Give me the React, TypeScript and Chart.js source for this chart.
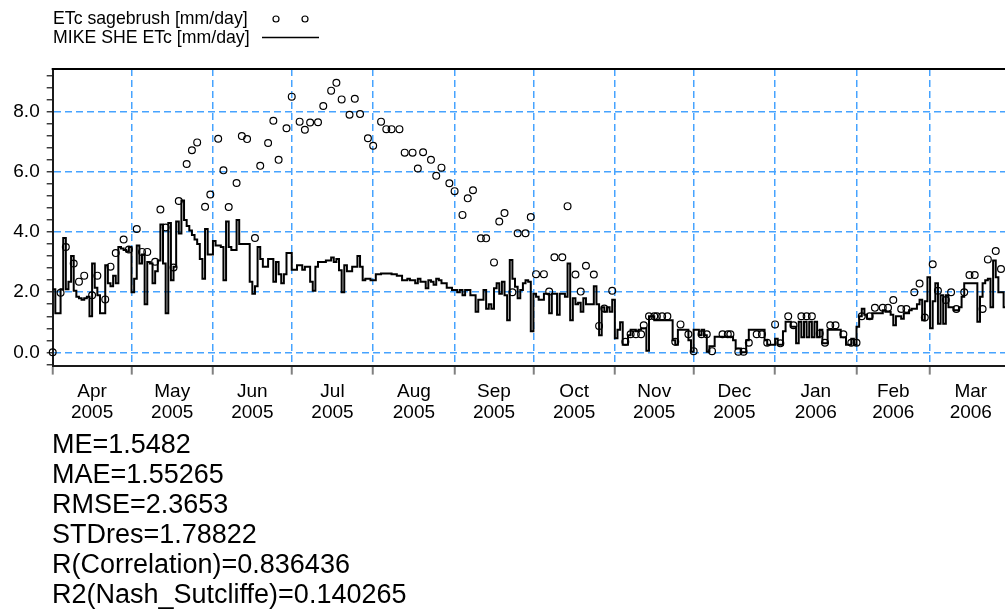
import React, { useEffect, useRef } from 'react';
import { Chart, registerables } from 'chart.js';

Chart.register(...registerables);

const FONT = 'Arial, "Liberation Sans", Helvetica, sans-serif';

// Month axis (day 0 = 1 Apr 2005)
const monthNames = ['Apr', 'May', 'Jun', 'Jul', 'Aug', 'Sep', 'Oct', 'Nov', 'Dec', 'Jan', 'Feb', 'Mar'];
const monthYears = ['2005', '2005', '2005', '2005', '2005', '2005', '2005', '2005', '2005', '2006', '2006', '2006'];
const monthStartDays = [0, 30, 61, 91, 122, 153, 183, 214, 244, 275, 306, 334, 365];

// Y axis ticks
const yTickValues = [-0.4, 0, 0.4, 0.8, 1.2, 1.6, 2, 2.4, 2.8, 3.2, 3.6, 4, 4.4, 4.8, 5.2, 5.6, 6, 6.4, 6.8, 7.2, 7.6, 8, 8.4, 8.8, 9.2];
const yLabelValues = [0, 2, 4, 6, 8];

// MIKE SHE ETc [mm/day], daily values per month
const mikeSheApr = [2.1, 1.3, 1.3, 2.1, 3.8, 2.1, 2.35, 3.2, 2.05, 1.85, 1.8, 1.75, 1.8, 1.85, 1.2, 2.95, 2.15, 1.9, 1.3, 1.3, 2.9, 2.3, 2.2, 2.55, 2.3, 3.5, 3.45, 3.4, 3.35, 3.5];
const mikeSheMay = [2.0, 2.45, 3.55, 2.95, 3.25, 1.6, 3.0, 2.95, 2.3, 2.7, 3.05, 4.25, 2.95, 1.3, 4.3, 2.4, 2.85, 4.35, 3.95, 5.05, 4.4, 4.2, 4.05, 3.9, 3.75, 3.6, 3.1, 2.45, 4.1, 3.25, 3.25];
const mikeSheJun = [3.7, 3.55, 3.55, 3.5, 2.4, 4.35, 3.5, 3.4, 3.4, 4.4, 3.6, 3.6, 3.6, 3.6, 2.35, 1.95, 2.2, 3.5, 3.1, 2.85, 2.85, 3.1, 3.1, 2.35, 3.0, 2.6, 2.3, 2.6, 3.3, 3.3];
const mikeSheJul = [2.75, 2.75, 2.9, 2.9, 2.75, 2.85, 2.85, 2.35, 2.05, 2.85, 3.0, 3.0, 3.0, 3.05, 3.05, 3.15, 3.0, 3.1, 2.73, 2.0, 2.9, 2.7, 2.7, 2.85, 2.85, 3.2, 2.85, 2.4, 2.45, 2.45, 2.4];
const mikeSheAug = [2.4, 2.6, 2.6, 2.62, 2.62, 2.62, 2.62, 2.6, 2.6, 2.55, 2.55, 2.4, 2.4, 2.45, 2.4, 2.4, 2.3, 2.45, 2.35, 2.35, 2.13, 2.4, 2.35, 2.25, 2.45, 2.4, 2.3, 2.3, 2.15, 2.15, 2.07];
const mikeSheSep = [2.07, 2.0, 2.07, 1.9, 2.07, 2.07, 1.9, 1.9, 1.35, 1.75, 1.75, 2.07, 1.45, 1.6, 1.45, 2.13, 2.3, 1.95, 2.35, 1.9, 1.07, 3.07, 2.45, 2.18, 1.8, 2.07, 2.3, 2.4, 2.35, 0.7];
const mikeSheOct = [1.95, 1.85, 1.75, 1.75, 1.95, 1.95, 1.3, 1.95, 1.95, 1.25, 1.95, 1.95, 1.85, 2.95, 1.07, 1.8, 1.6, 1.65, 1.35, 1.8, 1.6, 1.6, 1.6, 2.2, 1.6, 0.57, 1.5, 1.35, 1.5, 1.35, 1.75];
const mikeSheNov = [0.47, 0.75, 1.0, 0.25, 0.25, 0.57, 0.75, 0.75, 0.7, 0.75, 0.8, 0.8, 0.05, 1.2, 1.2, 1.07, 1.07, 1.07, 1.07, 1.07, 1.07, 1.07, 0.4, 0.25, 0.75, 0.75, 0.75, 0.75, 0.4, 0.02];
const mikeSheDec = [0.75, 0.75, 0.57, 0.75, 0.57, 0.02, 0.2, 0.2, 0.52, 0.52, 0.52, 0.52, 0.52, 0.52, 0.52, 0.4, 0.13, 0.13, 0.0, 0.0, 0.4, 0.75, 0.75, 0.75, 0.75, 0.75, 0.75, 0.4, 0.25, 0.25, 0.25];
const mikeSheJan = [0.45, 0.25, 0.25, 0.7, 1.02, 1.02, 0.85, 0.85, 0.3, 1.02, 0.5, 1.02, 0.5, 1.02, 0.5, 1.02, 0.5, 0.75, 0.3, 0.3, 0.75, 0.75, 0.75, 0.75, 0.75, 0.5, 0.5, 0.25, 0.25, 0.45, 0.25];
const mikeSheFeb = [0.85, 1.2, 1.45, 1.25, 1.12, 1.12, 1.3, 1.3, 1.3, 1.3, 1.4, 1.35, 1.35, 1.25, 0.9, 1.2, 1.2, 1.12, 1.3, 1.3, 1.4, 1.45, 1.45, 1.6, 1.75, 1.07, 1.7, 2.5];
const mikeSheMar = [0.8, 1.7, 2.3, 0.95, 1.9, 0.95, 1.9, 1.5, 1.5, 1.4, 1.4, 1.5, 1.85, 2.3, 2.3, 2.3, 2.3, 2.3, 1.02, 1.85, 2.3, 2.4, 2.45, 1.5, 3.05, 2.5, 2.0, 2.0, 1.5, 1.5];

// ETc sagebrush [mm/day] observations: day index and value
const sageDays = [0, 3, 5, 8, 10, 12, 15, 17, 20, 22, 24, 27, 29, 32, 34, 36, 39, 41, 43, 46, 48, 51, 53, 55, 58, 60, 63, 65, 67, 70, 72, 74, 77, 79, 82, 84, 86, 89, 91, 94, 96, 98, 101, 103, 106, 108, 110, 113, 115, 117, 120, 122, 125, 127, 129, 132, 134, 137, 139, 141, 144, 146, 148, 151, 153, 156, 158, 160, 163, 165, 168, 170, 172, 175, 177, 180, 182, 184, 187, 189, 191, 194, 196, 199, 201, 203, 206, 208, 210, 213, 218, 220, 222, 224, 225, 227, 229, 230, 232, 234, 237, 239, 242, 244, 247, 249, 251, 255, 257, 258, 261, 263, 265, 268, 270, 272, 275, 277, 280, 282, 285, 287, 289, 292, 294, 296, 298, 301, 304, 306, 308, 311, 313, 316, 318, 320, 323, 325, 328, 330, 332, 335, 337, 340, 342, 344, 347, 349, 351, 354, 356, 359, 361];
const sageValues = [0.0, 1.98, 3.5, 2.95, 2.35, 2.55, 1.9, 2.55, 1.76, 2.85, 3.3, 3.75, 3.42, 4.1, 3.34, 3.34, 3.01, 4.75, 4.15, 2.82, 5.03, 6.26, 6.72, 6.98, 4.84, 5.25, 7.1, 6.05, 4.83, 5.63, 7.19, 7.09, 3.8, 6.2, 6.96, 7.7, 6.4, 7.45, 8.5, 7.67, 7.4, 7.64, 7.65, 8.19, 8.7, 8.96, 8.41, 7.9, 8.43, 7.92, 7.12, 6.87, 7.67, 7.42, 7.42, 7.42, 6.64, 6.64, 6.11, 6.65, 6.4, 5.87, 6.14, 5.62, 5.36, 4.57, 5.12, 5.39, 3.79, 3.79, 2.99, 4.35, 4.63, 2.0, 3.96, 3.96, 4.5, 2.6, 2.6, 2.02, 3.16, 3.16, 4.86, 2.59, 2.02, 2.88, 2.59, 0.88, 1.46, 2.05, 0.35, 0.6, 0.6, 0.6, 0.9, 1.2, 1.2, 1.2, 1.2, 1.2, 0.35, 0.93, 0.6, 0.04, 0.6, 0.6, 0.04, 0.6, 0.6, 0.6, 0.02, 0.02, 0.32, 0.6, 0.6, 0.32, 0.93, 0.3, 1.2, 0.9, 1.2, 1.2, 1.2, 0.63, 0.32, 0.9, 0.9, 0.6, 0.32, 0.32, 1.2, 1.2, 1.48, 1.48, 1.48, 1.74, 1.44, 1.44, 2.0, 2.29, 1.16, 2.93, 2.05, 1.74, 2.0, 1.44, 2.0, 2.57, 2.57, 1.44, 3.09, 3.37, 2.77];

const legendLines = ['ETc sagebrush [mm/day]', 'MIKE SHE ETc [mm/day]'];
const statLines = ['ME=1.5482', 'MAE=1.55265', 'RMSE=2.3653', 'STDres=1.78822', 'R(Correlation)=0.836436', 'R2(Nash_Sutcliffe)=0.140265'];

const GRID_BLUE = 'rgb(70,163,255)';
const CLEAR = 'rgba(0,0,0,0)';
const CANVAS_W = 1020;
const CANVAS_H = 610;

export default function App() {
  const canvasRef = useRef<HTMLCanvasElement | null>(null);

  useEffect(() => {
    document.body.style.margin = '0';
    const canvas = canvasRef.current;
    if (!canvas) return;

    const mikeShe = [
      ...mikeSheApr, ...mikeSheMay, ...mikeSheJun, ...mikeSheJul, ...mikeSheAug, ...mikeSheSep,
      ...mikeSheOct, ...mikeSheNov, ...mikeSheDec, ...mikeSheJan, ...mikeSheFeb, ...mikeSheMar,
    ];
    const linePoints = mikeShe.map((v, i) => ({ x: i, y: v }));
    const dotPoints = sageDays.map((d, i) => ({ x: d, y: sageValues[i] }));

    const midDays = monthNames.map((_, i) => (monthStartDays[i] + monthStartDays[i + 1]) / 2);
    const xTickValues = [...monthStartDays, ...midDays].sort((a, b) => a - b);
    const isStart = (v: number) => monthStartDays.some((s) => Math.abs(s - v) < 0.01);
    const isLabelledY = (v: number) => yLabelValues.some((s) => Math.abs(s - v) < 0.01);

    const decorations = {
      id: 'decorations',
      afterDraw(chart: any) {
        const { ctx, chartArea } = chart;
        ctx.save();
        ctx.strokeStyle = '#000';
        ctx.lineWidth = 2;
        ctx.beginPath();
        ctx.moveTo(chartArea.left - 1, chartArea.top);
        ctx.lineTo(chart.width, chartArea.top);
        ctx.stroke();
        // legend symbols
        ctx.lineWidth = 1.2;
        [276, 305].forEach((cx) => {
          ctx.beginPath();
          ctx.arc(cx, 19, 3, 0, Math.PI * 2);
          ctx.stroke();
        });
        ctx.lineWidth = 1.6;
        ctx.beginPath();
        ctx.moveTo(262, 37.5);
        ctx.lineTo(319, 37.5);
        ctx.stroke();
        ctx.restore();
      },
    };

    Chart.defaults.font.family = FONT;
    Chart.defaults.color = '#000';

    const chart = new Chart(canvas, {
      type: 'line',
      data: {
        datasets: [
          {
            label: 'ETc sagebrush [mm/day]',
            data: dotPoints,
            showLine: false,
            pointStyle: 'circle',
            pointRadius: 3.4,
            pointBorderWidth: 1.2,
            pointBorderColor: '#000',
            pointBackgroundColor: CLEAR,
            borderColor: '#000',
            clip: 8,
            order: 0,
          } as any,
          {
            label: 'MIKE SHE ETc [mm/day]',
            data: linePoints,
            stepped: true,
            borderColor: '#000',
            borderWidth: 2,
            pointRadius: 0,
            fill: false,
            order: 1,
          } as any,
        ],
      },
      options: {
        animation: false,
        responsive: false,
        events: [],
        layout: { padding: { left: 0, top: 69, right: CANVAS_W - 1011.5, bottom: 0 } },
        plugins: { legend: { display: false }, tooltip: { enabled: false } },
        scales: {
          x: {
            type: 'linear',
            min: 0,
            max: 365,
            afterBuildTicks: (axis: any) => {
              axis.ticks = xTickValues.map((v) => ({ value: v }));
            },
            afterFit: (axis: any) => {
              axis.height = CANVAS_H - 365.6;
            },
            grid: {
              color: (c: any) => (c.tick && isStart(c.tick.value) ? GRID_BLUE : CLEAR),
              lineWidth: 1.5,
              tickColor: (c: any) => (c.tick && isStart(c.tick.value) ? '#808080' : CLEAR),
              tickLength: 9,
              tickWidth: 2,
            },
            border: { display: true, color: '#1a1a1a', width: 2, dash: [7, 4] },
            ticks: {
              autoSkip: false,
              maxRotation: 0,
              minRotation: 0,
              padding: 6.6,
              font: { size: 19, lineHeight: 21 / 19, family: FONT },
              color: '#000',
              callback: (value: any) => {
                const i = midDays.findIndex((m) => Math.abs(m - Number(value)) < 0.01);
                return i >= 0 ? [monthNames[i], monthYears[i]] : '';
              },
            },
          },
          y: {
            type: 'linear',
            min: -0.44,
            max: 9.42,
            afterBuildTicks: (axis: any) => {
              axis.ticks = yTickValues.map((v) => ({ value: v }));
            },
            afterFit: (axis: any) => {
              axis.width = 52.7;
            },
            grid: {
              color: (c: any) => (c.tick && isLabelledY(c.tick.value) ? GRID_BLUE : CLEAR),
              lineWidth: 1.5,
              tickColor: '#333',
              tickLength: 6,
              tickWidth: 1.4,
            },
            border: { display: true, color: '#1a1a1a', width: 2, dash: [7, 4] },
            ticks: {
              autoSkip: false,
              padding: 7,
              font: { size: 19, family: FONT },
              color: '#000',
              callback: (value: any) => (isLabelledY(Number(value)) ? Number(value).toFixed(1) : ''),
            },
          },
        },
      } as any,
      plugins: [decorations],
    });

    return () => chart.destroy();
  }, []);

  return (
    <div
      style={{
        position: 'fixed',
        left: 0,
        top: 0,
        width: 1005,
        height: 610,
        overflow: 'hidden',
        background: '#fff',
        fontFamily: FONT,
        color: '#000',
      }}
    >
      <canvas
        ref={canvasRef}
        width={CANVAS_W}
        height={CANVAS_H}
        style={{ position: 'absolute', left: 0, top: 0, width: CANVAS_W, height: CANVAS_H }}
      />
      {legendLines.map((t, i) => (
        <div
          key={t}
          style={{ position: 'absolute', left: 53, top: 10.3 + i * 18.3, fontSize: 17.7, lineHeight: '17.7px', whiteSpace: 'pre' }}
        >
          {t}
        </div>
      ))}
      {statLines.map((t, i) => (
        <div
          key={t}
          style={{ position: 'absolute', left: 52, top: 431 + i * 30, fontSize: 27, lineHeight: '27px', whiteSpace: 'pre' }}
        >
          {t}
        </div>
      ))}
    </div>
  );
}
